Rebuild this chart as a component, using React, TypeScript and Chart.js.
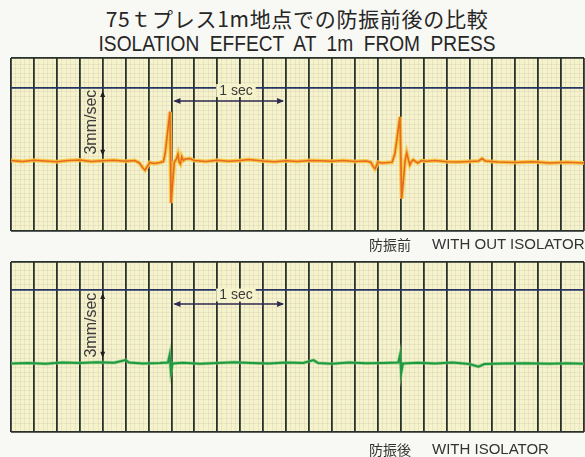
import { useEffect, useRef } from "react";
import { Chart, registerables } from "chart.js";

Chart.register(...registerables);

// ---- data (time in seconds, vibration velocity in mm/sec) ----
const timeTop = [
  0.0, 0.1, 0.2, 0.3, 0.4, 0.5, 0.6, 0.7, 0.8, 0.9, 1.0, 1.08, 1.12, 1.15, 1.17, 1.19, 1.21, 1.25, 1.3,
  1.33, 1.345, 1.387, 1.396, 1.425, 1.445, 1.457, 1.468, 1.478, 1.49, 1.505, 1.52, 1.56, 1.6, 1.7, 1.8,
  1.9, 2.0, 2.07, 2.2, 2.3, 2.4, 2.5, 2.6, 2.7, 2.8, 2.9, 3.0, 3.1, 3.14, 3.16, 3.176, 3.19, 3.2, 3.24,
  3.29, 3.325, 3.35, 3.394, 3.409, 3.44, 3.453, 3.468, 3.48, 3.495, 3.51, 3.53, 3.55, 3.58, 3.62, 3.7,
  3.8, 3.9, 4.0, 4.08, 4.11, 4.14, 4.25, 4.4, 4.55, 4.7, 4.85, 5.0,
];
const velTop = [
  0.02, -0.02, 0.03, 0.0, -0.03, 0.02, 0.04, -0.02, 0.01, 0.03, -0.01, 0.02, -0.08, -0.28, -0.38, -0.22,
  -0.06, -0.1, -0.06, -0.02, 0.3, 2.03, -1.73, -0.05, 0.1, 0.28, -0.05, -0.12, 0.18, 0.02, 0.08, 0.1,
  0.02, -0.02, 0.03, -0.01, 0.02, 0.06, 0.0, -0.03, 0.01, -0.02, 0.02, 0.01, -0.01, 0.02, -0.02, 0.0,
  -0.05, -0.22, -0.32, -0.18, -0.05, -0.08, -0.06, -0.05, 0.3, 1.82, -1.55, 0.05, 0.34, 0.05, -0.16,
  -0.02, 0.05, -0.02, -0.08, 0.02, -0.01, 0.02, -0.03, -0.04, -0.02, 0.0, 0.1, 0.0, -0.04, -0.06, -0.03,
  -0.08, -0.05, -0.08,
];
const timeBottom = [
  0.0, 0.15, 0.3, 0.45, 0.6, 0.75, 0.9, 1.0, 1.03, 1.15, 1.3, 1.37, 1.385, 1.395, 1.41, 1.5, 1.65, 1.8,
  1.95, 2.1, 2.25, 2.4, 2.55, 2.64, 2.68, 2.8, 2.95, 3.1, 3.25, 3.38, 3.395, 3.405, 3.42, 3.55, 3.7,
  3.85, 4.0, 4.08, 4.13, 4.3, 4.5, 4.7, 4.85, 5.0,
];
const velBottom = [
  -0.02, 0.0, -0.03, 0.02, 0.0, 0.03, 0.01, 0.12, 0.02, -0.02, 0.0, 0.02, 0.34, -0.36, -0.02, 0.01,
  -0.03, 0.0, 0.03, 0.0, -0.02, 0.02, 0.0, 0.12, 0.0, -0.03, 0.02, -0.01, 0.0, 0.02, 0.33, -0.4, -0.02,
  0.01, -0.02, 0.02, -0.04, -0.15, -0.04, -0.02, -0.01, -0.03, -0.01, -0.03,
];

// grid / axis values
const timeRange = [0, 5];
const gridSeconds = [
  0, 0.2, 0.4, 0.6, 0.8, 1.0, 1.2, 1.4, 1.6, 1.8, 2.0, 2.2, 2.4, 2.6, 2.8, 3.0, 3.2, 3.4, 3.6, 3.8, 4.0,
  4.2, 4.4, 4.6, 4.8, 5.0,
];
const topRange = [-2.88, 4.24];
const bottomRange = [-2.84, 4.16];
const scaleLevel = 3; // 3 mm/sec reference line
const secSpan = [1.4, 2.4]; // "1 sec" marker
const velSpan = [0.22, 2.88]; // "3mm/sec" marker
const velMarkerAt = 0.8;

const PAPER = "#f5f3cb";
const GRID = "#29312d";

const paperPlugin = {
  id: "paper",
  beforeDraw(chart: any) {
    const { ctx, chartArea } = chart;
    ctx.save();
    ctx.fillStyle = PAPER;
    ctx.fillRect(chartArea.left, chartArea.top, chartArea.right - chartArea.left, chartArea.bottom - chartArea.top);
    ctx.restore();
  },
};

const marksPlugin = {
  id: "marks",
  afterDraw(chart: any, _args: any, opts: any) {
    const { ctx, scales } = chart;
    const x = scales.x;
    const y = scales.y;
    ctx.save();
    // horizontal 1 sec arrow
    const x1 = x.getPixelForValue(opts.secSpan[0]);
    const x2 = x.getPixelForValue(opts.secSpan[1]);
    const ya = y.getPixelForValue(opts.secLevel);
    ctx.strokeStyle = "#2f2b4f";
    ctx.fillStyle = "#2f2b4f";
    ctx.lineWidth = 1.6;
    ctx.beginPath();
    ctx.moveTo(x1 + 3, ya);
    ctx.lineTo(x2 - 3, ya);
    ctx.stroke();
    ctx.beginPath();
    ctx.moveTo(x1 + 2, ya);
    ctx.lineTo(x1 + 9, ya - 3);
    ctx.lineTo(x1 + 9, ya + 3);
    ctx.closePath();
    ctx.fill();
    ctx.beginPath();
    ctx.moveTo(x2 - 2, ya);
    ctx.lineTo(x2 - 9, ya - 3);
    ctx.lineTo(x2 - 9, ya + 3);
    ctx.closePath();
    ctx.fill();
    // vertical 3mm/sec arrow
    const xv = x.getPixelForValue(opts.velAt);
    const yt = y.getPixelForValue(opts.velSpan[1]);
    const yb = y.getPixelForValue(opts.velSpan[0]);
    ctx.strokeStyle = "#1f1f1f";
    ctx.fillStyle = "#1f1f1f";
    ctx.beginPath();
    ctx.moveTo(xv, yt + 2);
    ctx.lineTo(xv, yb - 2);
    ctx.stroke();
    ctx.beginPath();
    ctx.moveTo(xv, yt);
    ctx.lineTo(xv - 2.5, yt + 6);
    ctx.lineTo(xv + 2.5, yt + 6);
    ctx.closePath();
    ctx.fill();
    ctx.beginPath();
    ctx.moveTo(xv, yb);
    ctx.lineTo(xv - 2.5, yb - 6);
    ctx.lineTo(xv + 2.5, yb - 6);
    ctx.closePath();
    ctx.fill();
    // "1 sec" label, interrupting the reference line
    const lx = x.getPixelForValue(opts.labelAt[0]);
    const ly = y.getPixelForValue(opts.labelAt[1]);
    ctx.font = "14px 'Liberation Sans', Arial, sans-serif";
    const w = ctx.measureText(opts.secText).width;
    ctx.fillStyle = PAPER;
    ctx.fillRect(lx - w / 2 - 3, ly - 7, w + 6, 13);
    ctx.fillStyle = "#3a3a3a";
    ctx.textAlign = "center";
    ctx.textBaseline = "middle";
    ctx.fillText(opts.secText, lx, ly);
    // "3mm/sec" rotated label
    const vx = x.getPixelForValue(opts.velLabelAt[0]);
    const vy = y.getPixelForValue(opts.velLabelAt[1]);
    ctx.translate(vx, vy);
    ctx.rotate(-Math.PI / 2);
    ctx.font = "16px 'Liberation Sans', Arial, sans-serif";
    ctx.fillStyle = "#3a3a3a";
    ctx.fillText(opts.velText, 0, 0);
    ctx.restore();
  },
};

function makeConfig(
  times: number[],
  vals: number[],
  range: number[],
  core: string,
  glow: string,
  coreWidth: number,
  glowWidth: number,
  secLevel: number,
  labelY: number,
  velLabelY: number,
  pad: { top: number; bottom: number }
): any {
  const pts = times.map((t, i) => ({ x: t, y: vals[i] }));
  const zeroH = (s: any) => {
    s.height = 0;
  };
  const zeroW = (s: any) => {
    s.width = 0;
  };
  return {
    type: "line",
    data: {
      datasets: [
        { data: pts, borderColor: core, borderWidth: coreWidth, pointRadius: 0, tension: 0 },
        { data: pts, borderColor: glow, borderWidth: glowWidth, pointRadius: 0, tension: 0 },
      ],
    },
    options: {
      responsive: false,
      maintainAspectRatio: false,
      animation: false,
      events: [],
      layout: { padding: { left: 11, right: 1, top: pad.top, bottom: pad.bottom } },
      plugins: {
        legend: { display: false },
        tooltip: { enabled: false },
        title: { display: false },
        marks: {
          secSpan,
          secLevel,
          velSpan,
          velAt: velMarkerAt,
          labelAt: [1.963, labelY],
          velLabelAt: [0.7, velLabelY],
          secText: "1 sec",
          velText: "3mm/sec",
        },
      },
      scales: {
        xMinor: {
          type: "linear",
          position: "bottom",
          min: timeRange[0],
          max: timeRange[1],
          z: -1,
          ticks: { display: false, stepSize: 0.04 },
          grid: { color: "rgba(185,165,160,0.32)", lineWidth: 0.6, drawTicks: false },
          border: { display: false },
          afterFit: zeroH,
        },
        yMinor: {
          type: "linear",
          position: "left",
          min: range[0],
          max: range[1],
          z: -1,
          ticks: { display: false, stepSize: 0.19 },
          grid: { color: "rgba(185,165,160,0.32)", lineWidth: 0.6, drawTicks: false },
          border: { display: false },
          afterFit: zeroW,
        },
        x: {
          type: "linear",
          position: "bottom",
          min: timeRange[0],
          max: timeRange[1],
          afterBuildTicks: (s: any) => {
            s.ticks = gridSeconds.map((v) => ({ value: v }));
          },
          ticks: { display: false },
          grid: { color: GRID, lineWidth: 1.8, drawTicks: false },
          border: { display: false },
          afterFit: zeroH,
        },
        y: {
          type: "linear",
          position: "left",
          min: range[0],
          max: range[1],
          afterBuildTicks: (s: any) => {
            s.ticks = [range[0], scaleLevel, range[1]].map((v) => ({ value: v }));
          },
          ticks: { display: false },
          grid: {
            color: (c: any) => (c.tick && c.tick.value === scaleLevel ? "#263463" : GRID),
            lineWidth: 1.8,
            drawTicks: false,
          },
          border: { display: false },
          afterFit: zeroW,
        },
      },
    },
    plugins: [paperPlugin, marksPlugin],
  };
}

const titleJa = "75ｔプレス1m地点での防振前後の比較";
const titleEn = "ISOLATION EFFECT AT 1m FROM PRESS";
const labelTopJa = "防振前";
const labelTopEn = "WITH OUT ISOLATOR";
const labelBottomJa = "防振後";
const labelBottomEn = "WITH ISOLATOR";

export default function App() {
  const topRef = useRef<HTMLCanvasElement>(null);
  const botRef = useRef<HTMLCanvasElement>(null);

  useEffect(() => {
    const c1 = new Chart(
      topRef.current as HTMLCanvasElement,
      makeConfig(timeTop, velTop, topRange, "#e8691f", "rgba(246,196,58,0.9)", 1.6, 4, 2.47, 2.88, 1.6, {
        top: 8,
        bottom: 9,
      })
    );
    const c2 = new Chart(
      botRef.current as HTMLCanvasElement,
      makeConfig(timeBottom, velBottom, bottomRange, "#1c9a43", "rgba(120,196,105,0.6)", 2, 3.6, 2.43, 2.78, 1.56, {
        top: 8,
        bottom: 8,
      })
    );
    return () => {
      c1.destroy();
      c2.destroy();
    };
  }, []);

  const jaFont = "'Noto Sans CJK JP', sans-serif";
  const enFont = "'Liberation Sans', Arial, sans-serif";

  return (
    <div
      style={{
        position: "fixed",
        left: 0,
        top: 0,
        width: 585,
        height: 457,
        overflow: "hidden",
        background: "#f8f8f4",
      }}
    >
      <div
        style={{
          position: "absolute",
          left: 0,
          width: 594,
          top: 4,
          textAlign: "center",
          fontFamily: jaFont,
          fontSize: 21,
          letterSpacing: 0.7,
          lineHeight: "28px",
          color: "#262626",
          whiteSpace: "nowrap",
        }}
      >
        {titleJa}
      </div>
      <div
        style={{
          position: "absolute",
          left: 0,
          width: 594,
          top: 32,
          textAlign: "center",
          fontFamily: enFont,
          fontSize: 22,
          lineHeight: "24px",
          color: "#262626",
          whiteSpace: "nowrap",
          wordSpacing: 6,
          transform: "scaleX(0.87)",
        }}
      >
        {titleEn}
      </div>
      <canvas
        ref={topRef}
        width={585}
        height={190}
        style={{ position: "absolute", left: 0, top: 50, width: 585, height: 190 }}
      />
      <canvas
        ref={botRef}
        width={585}
        height={186}
        style={{ position: "absolute", left: 0, top: 254, width: 585, height: 186 }}
      />
      <div
        style={{
          position: "absolute",
          left: 369,
          top: 235,
          fontFamily: jaFont,
          fontSize: 14,
          lineHeight: "18px",
          color: "#333",
          whiteSpace: "nowrap",
        }}
      >
        {labelTopJa}
      </div>
      <div
        style={{
          position: "absolute",
          left: 432,
          top: 235,
          fontFamily: enFont,
          fontSize: 15,
          lineHeight: "18px",
          color: "#333",
          whiteSpace: "nowrap",
        }}
      >
        {labelTopEn}
      </div>
      <div
        style={{
          position: "absolute",
          left: 369,
          top: 440,
          fontFamily: jaFont,
          fontSize: 14,
          lineHeight: "18px",
          color: "#333",
          whiteSpace: "nowrap",
        }}
      >
        {labelBottomJa}
      </div>
      <div
        style={{
          position: "absolute",
          left: 432,
          top: 440,
          fontFamily: enFont,
          fontSize: 15,
          lineHeight: "18px",
          color: "#333",
          whiteSpace: "nowrap",
        }}
      >
        {labelBottomEn}
      </div>
    </div>
  );
}
